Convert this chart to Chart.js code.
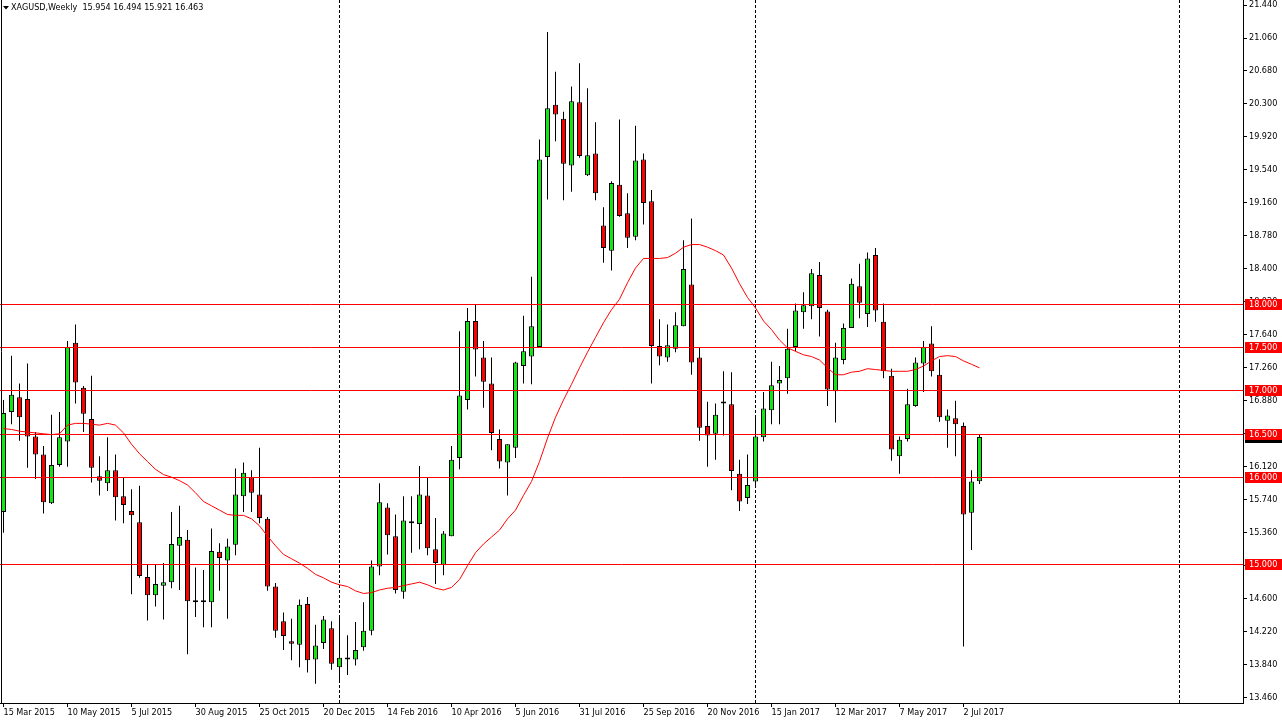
<!DOCTYPE html>
<html>
<head>
<meta charset="utf-8">
<title>XAGUSD Weekly</title>
<script src="https://cdn.jsdelivr.net/npm/chart.js@4.4.1/dist/chart.umd.min.js"></script>
<style>
    html, body { margin: 0; padding: 0; background: #fff; }
    canvas { display: block; }
</style>
</head>
<body>
<canvas id="chart" width="1282" height="723"></canvas>
<script>
const symbolTitle = 'XAGUSD,Weekly';
const lastQuote = [15.954, 16.494, 15.921, 16.463];

// weekly candles, 15 Mar 2015 .. 16 Jul 2017
const opens = [
    15.60, 16.75, 16.92, 16.90, 16.47, 16.26, 15.70, 16.14, 16.41, 17.55,
    17.03, 16.67, 16.01, 15.93, 16.08, 15.78, 15.61, 15.48, 14.85, 14.64,
    14.75, 14.79, 15.21, 15.28, 14.58, 14.58, 14.56, 15.14, 15.04, 15.22,
    15.78, 16.00, 15.80, 15.52, 14.74, 14.34, 14.11, 14.07, 14.54, 13.90,
    14.09, 14.26, 13.81, 13.92, 13.90, 14.04, 14.23, 14.97, 15.65, 15.32,
    14.68, 15.47, 15.46, 15.79, 15.17, 14.99, 15.32, 16.22, 16.89, 17.80,
    17.38, 17.08, 16.44, 16.17, 16.34, 17.28, 17.39, 17.50, 19.69, 20.29,
    20.13, 19.59, 20.32, 19.48, 19.73, 18.90, 18.61, 19.37, 19.04, 18.77,
    19.66, 19.18, 17.51, 17.38, 17.48, 17.74, 18.22, 17.38, 16.59, 16.50,
    16.85, 16.84, 16.04, 15.76, 15.95, 16.46, 16.77, 17.08, 17.14, 17.50,
    17.90, 17.97, 18.33, 17.91, 16.99, 17.35, 17.72, 18.20, 17.88, 18.56,
    17.79, 17.17, 16.24, 16.44, 16.82, 17.31, 17.54, 17.18, 16.65, 16.68,
    16.59, 15.59, 15.954
];
const highs = [
    16.89, 17.40, 17.08, 17.31, 16.52, 16.36, 16.72, 16.75, 17.57, 17.76,
    17.05, 17.17, 16.24, 16.46, 16.26, 16.00, 15.86, 15.90, 14.99, 14.99,
    15.01, 15.60, 15.67, 15.39, 14.96, 14.93, 15.41, 15.24, 15.29, 16.10,
    16.17, 16.08, 16.34, 15.54, 14.78, 14.44, 14.37, 14.59, 14.62, 14.30,
    14.40, 14.34, 14.39, 14.18, 14.33, 14.56, 15.04, 15.93, 15.70, 15.57,
    15.78, 15.78, 16.13, 16.00, 15.53, 15.38, 16.36, 17.68, 17.95, 17.99,
    17.57, 17.38, 16.55, 16.38, 17.33, 17.86, 18.31, 19.89, 21.13, 20.67,
    20.21, 20.50, 20.77, 20.48, 20.09, 19.11, 19.41, 20.12, 19.27, 20.05,
    19.73, 19.31, 17.82, 17.76, 17.90, 18.73, 18.98, 17.50, 16.87, 16.85,
    17.22, 17.21, 16.20, 16.26, 16.70, 16.98, 17.33, 17.28, 17.71, 18.00,
    18.13, 18.40, 18.48, 17.93, 17.55, 17.77, 18.29, 18.46, 18.59, 18.64,
    18.00, 17.25, 16.47, 17.02, 17.38, 17.57, 17.74, 17.36, 16.78, 16.88,
    16.63, 16.08, 16.494
];
const lows = [
    15.36, 16.61, 16.42, 16.11, 15.98, 15.58, 15.69, 16.12, 16.12, 16.85,
    16.52, 15.94, 15.79, 15.84, 15.50, 15.47, 14.65, 14.84, 14.35, 14.51,
    14.36, 14.72, 14.70, 13.96, 14.39, 14.27, 14.27, 14.69, 14.37, 15.10,
    15.60, 15.60, 15.47, 14.69, 14.15, 14.01, 13.89, 13.81, 13.75, 13.62,
    14.02, 13.78, 13.65, 13.72, 13.83, 14.00, 14.18, 14.87, 15.11, 14.66,
    14.60, 15.13, 15.17, 15.10, 14.77, 14.87, 15.32, 16.09, 16.78, 17.16,
    16.80, 16.31, 16.10, 15.79, 16.22, 17.08, 17.07, 17.50, 19.20, 19.87,
    19.19, 19.29, 19.68, 19.47, 19.19, 18.47, 18.38, 19.00, 18.64, 18.73,
    18.91, 17.08, 17.29, 17.33, 17.44, 17.74, 17.18, 16.42, 16.12, 16.20,
    16.48, 15.85, 15.61, 15.69, 15.89, 16.41, 16.61, 16.61, 16.96, 17.45,
    17.71, 17.82, 17.62, 16.82, 16.63, 17.30, 17.72, 17.83, 17.73, 17.79,
    17.14, 16.19, 16.04, 16.41, 16.81, 16.98, 17.16, 16.64, 16.34, 16.24,
    14.05, 15.16, 15.921
];
const closes = [
    16.74, 16.95, 16.69, 16.47, 16.26, 15.71, 16.14, 16.46, 17.50, 17.09,
    16.73, 16.11, 15.96, 16.08, 15.77, 15.68, 15.56, 14.86, 14.64, 14.77,
    14.79, 15.23, 15.31, 14.57, 14.56, 14.56, 15.15, 15.07, 15.20, 15.80,
    16.05, 15.82, 15.53, 14.74, 14.23, 14.17, 14.08, 14.53, 13.89, 14.06,
    14.36, 13.85, 13.92, 13.90, 14.01, 14.23, 14.97, 15.71, 15.33, 14.70,
    15.50, 15.47, 15.80, 15.18, 15.01, 15.35, 16.20, 16.94, 17.80, 17.47,
    17.10, 16.51, 16.18, 16.38, 17.32, 17.45, 17.74, 19.66, 20.25, 20.18,
    19.61, 20.33, 19.70, 19.71, 19.27, 18.64, 19.39, 19.01, 18.76, 19.65,
    19.16, 17.51, 17.39, 17.52, 17.75, 18.40, 17.32, 16.57, 16.48, 16.72,
    16.87, 16.07, 15.72, 15.91, 16.47, 16.79, 17.06, 17.12, 17.48, 17.92,
    17.98, 18.35, 17.95, 17.01, 17.38, 17.72, 18.23, 18.01, 18.52, 17.92,
    17.22, 16.32, 16.43, 16.84, 17.32, 17.50, 17.22, 16.69, 16.71, 16.61,
    15.57, 15.95, 16.463
];
// moving average
const movingAvg = [
    16.56, 16.55, 16.53, 16.52, 16.51, 16.50, 16.49, 16.50, 16.60, 16.62,
    16.62, 16.61, 16.60, 16.62, 16.60, 16.51, 16.38, 16.27, 16.18, 16.09,
    16.03, 16.00, 15.96, 15.91, 15.82, 15.72, 15.67, 15.62, 15.57, 15.56,
    15.56, 15.52, 15.44, 15.32, 15.21, 15.11, 15.06, 15.01, 14.95, 14.88,
    14.84, 14.79, 14.76, 14.74, 14.69, 14.66, 14.67, 14.70, 14.72, 14.73,
    14.75, 14.77, 14.79, 14.76, 14.72, 14.70, 14.73, 14.82, 14.98, 15.13,
    15.23, 15.31, 15.39, 15.52, 15.62, 15.79, 15.95, 16.18, 16.45, 16.69,
    16.89, 17.07, 17.26, 17.44, 17.61, 17.78, 17.93, 18.05, 18.24, 18.41,
    18.52, 18.52, 18.52, 18.53, 18.58, 18.65, 18.68, 18.68, 18.65, 18.61,
    18.56, 18.41, 18.23, 18.07, 17.95, 17.80, 17.70, 17.58, 17.49, 17.45,
    17.41, 17.39, 17.35, 17.26, 17.18, 17.18, 17.21, 17.22, 17.25, 17.24,
    17.23, 17.22, 17.22, 17.22, 17.24, 17.28, 17.34, 17.39, 17.40, 17.39,
    17.34, 17.30, 17.26
];

const hLines = [18.0, 17.5, 17.0, 16.5, 16.0, 15.0];
const separators = [42, 94, 147];   // first week of 2016, 2017, 2018
const tickLabels = [
    '15 Mar 2015', '10 May 2015', '5 Jul 2015', '30 Aug 2015', '25 Oct 2015',
    '20 Dec 2015', '14 Feb 2016', '10 Apr 2016', '5 Jun 2016', '31 Jul 2016',
    '25 Sep 2016', '20 Nov 2016', '15 Jan 2017', '12 Mar 2017', '7 May 2017',
    '2 Jul 2017'
];
const tickEvery = 8;
const priceTicks = [
    13.46, 13.84, 14.22, 14.60, 14.98, 15.36, 15.74, 16.12, 16.50, 16.88,
    17.26, 17.64, 18.02, 18.40, 18.78, 19.16, 19.54, 19.92, 20.30, 20.68,
    21.06, 21.44
];

const FONT = '"DejaVu Sans Condensed", "DejaVu Sans", sans-serif';
const BULL = '#14e614';
const BEAR = '#ff0000';

Chart.defaults.font.family = FONT;
Chart.defaults.font.size = 9;
Chart.defaults.color = '#000';

const wickData = lows.map((lo, i) => ({ x: i, y: [lo, highs[i]] }));
const bodyData = opens.map((o, i) => ({ x: i, y: [o, closes[i]] }));
const bodyColors = opens.map((o, i) => closes[i] >= o ? BULL : BEAR);
const maData = movingAvg.map((v, i) => ({ x: i, y: v }));

const overlay = {
    id: 'overlay',
    beforeDatasetsDraw(chart) {
        const { ctx, chartArea, scales: { x } } = chart;
        ctx.save();
        ctx.strokeStyle = '#000';
        ctx.lineWidth = 1;
        ctx.setLineDash([3, 2]);
        separators.forEach(idx => {
            const px = x.getPixelForValue(idx);
            ctx.beginPath();
            ctx.moveTo(px, chartArea.top);
            ctx.lineTo(px, chartArea.bottom);
            ctx.stroke();
        });
        ctx.restore();
    },
    afterDatasetsDraw(chart) {
        const { ctx, chartArea, scales: { y } } = chart;
        ctx.save();
        ctx.strokeStyle = '#ff0000';
        ctx.lineWidth = 1;
        hLines.forEach(v => {
            const py = Math.round(y.getPixelForValue(v)) + 0.5;
            ctx.beginPath();
            ctx.moveTo(chartArea.left, py);
            ctx.lineTo(chartArea.right, py);
            ctx.stroke();
        });
        ctx.restore();
    },
    afterDraw(chart) {
        const { ctx, chartArea, scales: { y } } = chart;
        ctx.save();

        // left frame line
        ctx.strokeStyle = '#000';
        ctx.beginPath();
        ctx.moveTo(1.5, 0);
        ctx.lineTo(1.5, chartArea.bottom);
        ctx.stroke();

        // price labels on the axis
        ctx.font = `9px ${FONT}`;
        ctx.textAlign = 'left';
        ctx.textBaseline = 'middle';
        const boxX = chartArea.right + 2;
        const boxW = chart.width - boxX;

        const lastY = Math.round(y.getPixelForValue(lastQuote[3]));
        ctx.fillStyle = '#000';
        ctx.fillRect(boxX, lastY - 5, boxW, 11);
        ctx.fillStyle = '#fff';
        ctx.fillText(lastQuote[3].toFixed(3), chartArea.right + 6, lastY + 0.5);

        hLines.forEach(v => {
            const py = Math.round(y.getPixelForValue(v));
            ctx.fillStyle = '#ff0000';
            ctx.fillRect(boxX, py - 5, boxW, 11);
            ctx.fillStyle = '#fff';
            ctx.fillText(v.toFixed(3), chartArea.right + 6, py + 0.5);
        });

        // title
        ctx.fillStyle = '#000';
        ctx.beginPath();
        ctx.moveTo(3, 6);
        ctx.lineTo(9, 6);
        ctx.lineTo(6, 9.5);
        ctx.closePath();
        ctx.fill();
        ctx.fillText(symbolTitle + '  ' + lastQuote.map(v => v.toFixed(3)).join(' '), 11, 8);
        ctx.restore();
    }
};

new Chart(document.getElementById('chart'), {
    type: 'bar',
    data: {
        datasets: [
            {
                type: 'line',
                label: 'MA',
                data: maData,
                borderColor: '#ff0000',
                borderWidth: 1,
                pointRadius: 0,
                tension: 0,
                order: 0
            },
            {
                label: 'body',
                data: bodyData,
                backgroundColor: bodyColors,
                borderColor: '#000',
                borderWidth: 1,
                borderSkipped: false,
                barThickness: 5,
                minBarLength: 2,
                inflateAmount: 0,
                grouped: false,
                order: 1
            },
            {
                label: 'wick',
                data: wickData,
                backgroundColor: '#000',
                borderWidth: 0,
                barThickness: 1,
                inflateAmount: 0,
                grouped: false,
                order: 2
            }
        ]
    },
    options: {
        responsive: false,
        animation: false,
        devicePixelRatio: 1,
        layout: { padding: 0 },
        plugins: {
            legend: { display: false },
            tooltip: { enabled: false }
        },
        scales: {
            x: {
                type: 'linear',
                position: 'bottom',
                offset: false,
                min: -0.4375,
                max: 154.9375,
                grid: { drawOnChartArea: false, drawTicks: true, tickLength: 4, color: '#000', offset: false },
                border: { display: true, color: '#000' },
                ticks: {
                    autoSkip: false,
                    maxRotation: 0,
                    align: 'start',
                    padding: 0,
                    color: '#000',
                    callback: (v) => tickLabels[v / tickEvery] || ''
                },
                afterBuildTicks: (scale) => {
                    scale.ticks = tickLabels.map((_, k) => ({ value: k * tickEvery }));
                },
                afterFit: (scale) => {
                    scale.height = 20;
                    scale.paddingLeft = 0;
                    scale.paddingRight = 0;
                }
            },
            y: {
                type: 'linear',
                position: 'right',
                min: 13.398,
                max: 21.498,
                grid: { drawOnChartArea: false, drawTicks: true, tickLength: 4, color: '#000' },
                border: { display: true, color: '#000' },
                ticks: {
                    padding: 2,
                    color: '#000',
                    callback: (v) => v.toFixed(3)
                },
                afterBuildTicks: (scale) => {
                    scale.ticks = priceTicks.map(v => ({ value: v }));
                },
                afterFit: (scale) => {
                    scale.width = 39;
                    scale.paddingTop = 0;
                    scale.paddingBottom = 0;
                }
            }
        }
    },
    plugins: [overlay]
});
</script>
</body>
</html>
